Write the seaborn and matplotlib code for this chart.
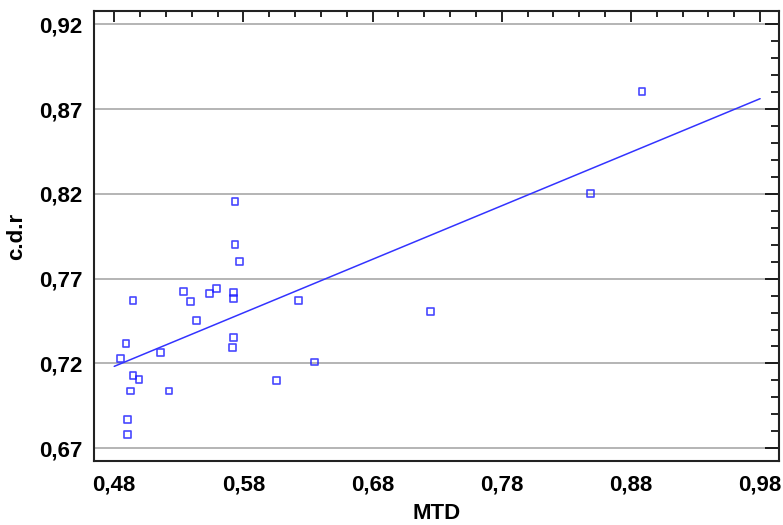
import matplotlib
matplotlib.use("Agg")
import matplotlib.pyplot as plt
import seaborn as sns
import pandas as pd
from matplotlib.ticker import FuncFormatter, MultipleLocator

mtd = [0.5735, 0.5735, 0.5771, 0.5334, 0.5536, 0.5590, 0.5725, 0.5725, 0.5392,
       0.4945, 0.5435, 0.5725, 0.5714, 0.4891, 0.5156, 0.4846, 0.4945, 0.4991,
       0.4924, 0.5224, 0.4901, 0.4901, 0.6055, 0.6225, 0.7248, 0.6349, 0.8885,
       0.8485]
cdr = [0.8153, 0.7900, 0.7800, 0.7622, 0.7612, 0.7640, 0.7616, 0.7584, 0.7563,
       0.7571, 0.7453, 0.7351, 0.7292, 0.7318, 0.7266, 0.7231, 0.7131, 0.7104,
       0.7037, 0.7037, 0.6869, 0.6782, 0.7098, 0.7571, 0.7504, 0.7208, 0.8804,
       0.8204]
x_ticks = [0.48, 0.58, 0.68, 0.78, 0.88, 0.98]
y_ticks = [0.67, 0.72, 0.77, 0.82, 0.87, 0.92]

df = pd.DataFrame({"MTD": mtd, "c.d.r": cdr})

sns.set_style("white")
plt.rcParams["font.family"] = ["Liberation Sans", "DejaVu Sans"]

fig = plt.figure(figsize=(7.83, 5.25), dpi=100)
ax = fig.add_axes([0.12, 0.122, 0.875, 0.857])

# line spans the tick range, so set limits first
ax.set_xlim(x_ticks[0], x_ticks[-1])
sns.regplot(data=df, x="MTD", y="c.d.r", ax=ax, ci=None, truncate=False,
            marker="s",
            scatter_kws=dict(s=24, facecolors="none", edgecolors="#1a1aff", linewidths=1.2),
            line_kws=dict(color="#3333ff", lw=1.1))

ax.set_xlim(0.4643, 0.9947)
ax.set_ylim(0.6625, 0.9278)
for v in y_ticks:
    ax.axhline(v, color="#a8a8a8", lw=1.2, zorder=0)

ax.set_xticks(x_ticks)
ax.set_yticks(y_ticks)
ax.xaxis.set_minor_locator(MultipleLocator(0.02))
ax.yaxis.set_minor_locator(MultipleLocator(0.01))
fmt = FuncFormatter(lambda v, p: f"{v:.2f}".replace(".", ","))
ax.xaxis.set_major_formatter(fmt)
ax.yaxis.set_major_formatter(fmt)

ax.tick_params(which="both", direction="in", top=True, right=True, color="black",
               width=1.2, labelcolor="black")
ax.tick_params(axis="y", which="major", length=10, labelsize=16, pad=8)
ax.tick_params(axis="y", which="minor", length=6)
ax.tick_params(axis="x", which="major", length=8, labelsize=16, pad=10)
ax.tick_params(axis="x", which="minor", length=4)
for lab in ax.get_xticklabels() + ax.get_yticklabels():
    lab.set_fontweight("bold")

for s in ax.spines.values():
    s.set_color("#222222")
    s.set_linewidth(1.5)

ax.set_xlabel("MTD", fontsize=16, fontweight="bold", color="black", labelpad=5)
ax.set_ylabel("c.d.r", fontsize=16, fontweight="bold", color="black", labelpad=9)

fig.savefig("out.png", dpi=100)
